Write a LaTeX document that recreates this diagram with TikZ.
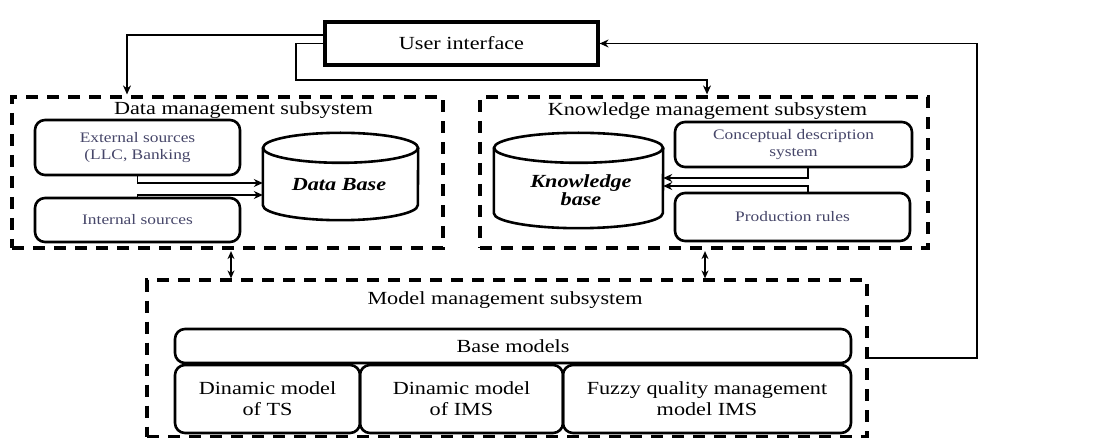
\documentclass[tikz,border=0pt]{standalone}
\usepackage{fontspec}
\setmainfont{Liberation Serif}[FakeStretch=1.2]
\usetikzlibrary{arrows.meta}
\definecolor{smalltxt}{RGB}{70,70,105}
\tikzset{
  dashbox/.style={draw, line width=3.2pt, dash pattern=on 12pt off 9pt, inner sep=0pt},
  rbox/.style={draw, line width=2.6pt, rounded corners=10pt, inner sep=0pt, align=center},
  uibox/.style={draw, line width=3.2pt, inner sep=0pt},
  cyl/.style={line width=2.6pt},
  conn/.style={line width=1.2pt},
  arr/.style={conn, -{Stealth[length=9pt,width=8pt]}},
  darr/.style={conn, {Stealth[length=8pt,width=7pt]}-{Stealth[length=8pt,width=7pt]}},
  big/.style={font=\fontsize{18.5}{21}\selectfont, align=center},
  small/.style={font=\fontsize{14.5}{16.5}\selectfont, text=smalltxt, align=center},
  title/.style={font=\fontsize{18.5}{21}\selectfont, inner sep=0pt}
}
\begin{document}
\begin{tikzpicture}[x=1pt,y=-1pt]
\useasboundingbox (0,0) rectangle (1094,438);
% user interface
\node[uibox, minimum width=273pt, minimum height=43pt, big] (ui) at (461.5,43.5) {User interface};
% subsystem frames
\node[dashbox, minimum width=431pt, minimum height=151pt] (dms) at (227.5,172.5) {};
\node[title] (dmsT) at (243.5,110) {Data management subsystem};
\node[dashbox, minimum width=448pt, minimum height=151pt] (kms) at (704,172.5) {};
\node[title] (kmsT) at (707.5,111) {Knowledge management subsystem};
\node[dashbox, minimum width=720pt, minimum height=156.5pt] (mms) at (507,358.25) {};
\node[title] (mmsT) at (505,300) {Model management subsystem};
% data management content
\node[rbox, minimum width=205pt, minimum height=55pt, small] (ext) at (137.5,147.5) {External sources\\(LLC, Banking};
\node[rbox, minimum width=205pt, minimum height=44pt, small] (int) at (137.5,220) {Internal sources};
\node[minimum width=155pt, minimum height=87pt, inner sep=0pt] (db) at (340.5,176.5) {};
\draw[cyl] ([yshift=-15pt]db.north west) -- ([yshift=15pt]db.south west)
  arc[start angle=180, end angle=360, x radius=77.5pt, y radius=15pt]
  -- ([yshift=-15pt]db.north east);
\draw[cyl] ([yshift=-15pt]db.north) ellipse[x radius=77.5pt, y radius=15pt];
\node[big, font=\fontsize{18.5}{21}\selectfont\bfseries\itshape] (dbT) at (339,185) {Data Base};
% knowledge management content
\node[rbox, minimum width=237pt, minimum height=45pt, small] (cds) at (793.5,144.5) {Conceptual description\\system};
\node[rbox, minimum width=235pt, minimum height=48pt, small] (pr) at (792.5,217) {Production rules};
\node[minimum width=169pt, minimum height=95pt, inner sep=0pt] (kb) at (578.5,180.5) {};
\draw[cyl] ([yshift=-15pt]kb.north west) -- ([yshift=15pt]kb.south west)
  arc[start angle=180, end angle=360, x radius=84.5pt, y radius=15pt]
  -- ([yshift=-15pt]kb.north east);
\draw[cyl] ([yshift=-15pt]kb.north) ellipse[x radius=84.5pt, y radius=15pt];
\node[font=\fontsize{18.5}{18}\selectfont\bfseries\itshape, align=center] (kbT) at (581,190) {Knowledge\\base};
% model management content
\node[rbox, minimum width=676pt, minimum height=34pt, big] (bm) at (513,346) {Base models};
\node[rbox, minimum width=185pt, minimum height=68pt, big] (ts) at (267.5,399) {Dinamic model\\of TS};
\node[rbox, minimum width=203pt, minimum height=68pt, big] (ims) at (461.5,399) {Dinamic model\\of IMS};
\node[rbox, minimum width=288pt, minimum height=68pt, big] (fz) at (707,399) {Fuzzy quality management\\model IMS};
% connectors inside data management
\draw[arr] (ext.south) |- ([yshift=-6.5pt]db.west);
\draw[arr] (int.north) |- ([yshift=-18.5pt]db.west);
% connectors inside knowledge management
\draw[arr] ([xshift=14.5pt]cds.south) |- ([yshift=2.5pt]kb.east);
\draw[arr] ([xshift=15.5pt]pr.north) |- ([yshift=-5.5pt]kb.east);
% user interface connectors
\coordinate (d1) at (127,35);
\coordinate (k1) at (296,80);
\coordinate (k2) at (707,80);
\coordinate (f1) at (977,358);
\draw[arr] ([yshift=8.5pt]ui.west) -- (ui.west |- d1) -- (d1) -- ([yshift=1pt]dms.north -| d1);
\draw[arr] (ui.west) -| (k1) -- (k2) -- ([yshift=1pt]kms.north -| k2);
\draw[arr] (mms.east |- f1) -- (f1) |- (ui.east);
% links between subsystems
\coordinate (l1) at (231,0);
\coordinate (l2) at (705,0);
\draw[darr] ([yshift=-1.5pt]dms.south -| l1) -- (mms.north -| l1);
\draw[darr] ([yshift=-1.5pt]kms.south -| l2) -- (mms.north -| l2);
\end{tikzpicture}
\end{document}
